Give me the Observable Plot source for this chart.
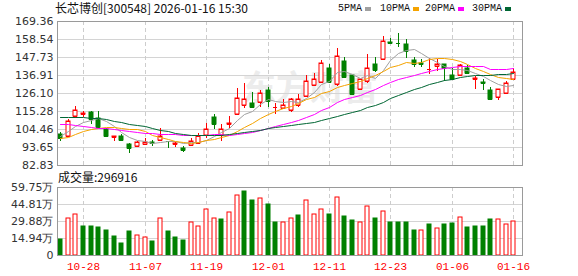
<!DOCTYPE html>
<html>
<head>
<meta charset="utf-8">
<script src="https://cdn.jsdelivr.net/npm/d3@7"></script>
<script src="https://cdn.jsdelivr.net/npm/@observablehq/plot@0.6"></script>
<style>
  body { margin: 0; background: #fff; }
  #wrap { position: relative; width: 578px; height: 276px; overflow: hidden; background: #fff; }
  .abs { position: absolute; }
  #title { left: 55px; top: 2px; font: 12px/12px "Noto Sans CJK SC", sans-serif; color: #111; white-space: nowrap; }
  #volTitle { left: 58px; top: 171px; font: 12px/12px "Noto Sans CJK SC", sans-serif; color: #111; white-space: nowrap; }
  .lg { position: absolute; top: 3px; font: 10px/11px "Liberation Mono", monospace; color: #111; white-space: nowrap; display: flex; align-items: center; }
  .sw { display: inline-block; width: 6px; height: 4px; margin-left: 3px; }
</style>
</head>
<body>
<div id="wrap">
  <div id="main" class="abs" style="left:0;top:0"></div>
  <div id="vol" class="abs" style="left:0;top:172px"></div>
  <div id="title" class="abs"></div>
  <div id="legend"></div>
  <div id="volTitle" class="abs"></div>
</div>
<script>
// ---------------- data ----------------
const stockName = "长芯博创";
const stockCode = "300548";
const stamp = "2026-01-16 15:30";

const dates = ["10-23","10-24","10-27","10-28","10-29","10-30","10-31","11-03","11-04","11-05",
  "11-06","11-07","11-10","11-11","11-12","11-13","11-14","11-17","11-18","11-19",
  "11-20","11-21","11-24","11-25","11-26","11-27","11-28","12-01","12-02","12-03",
  "12-04","12-05","12-08","12-09","12-10","12-11","12-12","12-15","12-16","12-17",
  "12-18","12-19","12-22","12-23","12-24","12-25","12-26","12-29","12-30","12-31",
  "01-05","01-06","01-07","01-08","01-09","01-12","01-13","01-14","01-15","01-16"];

const openP = [101.26,100.26,112.27,113.5,114.68,110.9,104.26,99.7,100.06,95.25,
  94.25,95.25,96.85,98.05,97.45,95.5,93.24,94.65,96.25,100.86,
  111.87,100.86,107.27,113.28,118.88,120.29,120.89,128.1,117.7,117.28,
  115.88,118.88,124.09,130.9,132.7,141.3,131.3,145.3,136.9,128.3,
  133.3,143.7,146.3,156.5,156.4,155.3,145.9,143.9,140.4,142.3,
  143.3,136.9,136.9,140.9,134.5,132.5,128.1,123.7,126.0,134.5];

const closeP = [99.25,109.27,115.88,113.9,110.27,105.9,100.06,100.0,97.85,93.24,
  96.85,96.9,96.05,100.26,97.1,95.8,91.64,97.25,100.26,104.66,
  107.27,104.66,108.27,123.29,122.69,117.88,126.1,121.49,117.9,118.88,
  122.69,122.5,133.3,134.7,144.1,132.9,148.3,135.7,125.7,134.3,
  141.3,139.7,157.3,156.1,155.9,151.3,143.3,143.5,140.7,143.7,
  140.9,134.5,142.7,138.3,134.9,132.3,122.3,128.3,132.3,138.9];

const highP = [102.86,110.27,118.08,115.08,115.28,115.3,105.26,100.0,101.26,96.25,
  97.0,98.86,97.65,105.26,97.5,96.85,94.05,99.25,102.26,108.27,
  113.68,107.67,112.27,129.3,132.3,126.9,127.7,129.5,120.29,122.49,
  123.29,125.7,136.91,138.31,145.7,143.3,152.9,147.7,136.9,134.7,
  149.7,147.7,160.3,158.9,162.3,158.3,147.7,146.3,147.3,146.3,
  143.7,141.3,143.3,142.7,136.5,134.3,129.5,128.7,133.1,141.3];

const lowP = [97.25,99.86,111.27,111.67,107.27,105.5,99.86,97.25,97.25,90.24,
  94.1,94.85,94.05,97.25,93.24,93.84,90.84,94.05,95.25,99.25,
  104.26,97.25,105.26,112.88,117.28,117.68,117.68,117.68,113.28,116.28,
  114.88,117.68,123.69,130.7,132.3,132.3,130.3,134.9,125.5,127.9,
  132.3,138.7,146.1,155.3,153.7,147.3,141.7,141.7,137.3,139.3,
  133.3,134.5,136.1,137.3,128.7,128.1,122.3,122.1,125.5,134.3];

// volume in 万 (10k shares)
const volWan = [14.0,32.6,35.6,25.4,25.4,24.5,21.9,16.9,10.5,21.0,
  17.5,15.7,12.2,32.1,21.0,15.7,13.1,28.6,25.1,40.2,
  32.9,31.5,38.2,53.1,56.0,48.1,50.4,44.6,28.9,28.6,
  32.9,35.0,48.1,36.4,40.8,36.4,51.3,34.1,30.6,29.4,
  43.4,32.4,39.1,28.9,28.9,28.9,21.9,22.4,26.8,23.3,
  26.8,27.7,33.8,24.5,25.1,25.1,31.5,31.2,26.8,29.6916];

const prevClose0 = 101.0; // close of the day before the first bar

// moving-average values before enough in-window closes exist
const ma5Early = [100.3,103.3,106.3,108.7];
const ma10Early = [99.3,99.9,101.3,103.3,104.7,105.3,105.7,105.4,104.9];
const ma20Early = [107.6,107.2,106.7,106.1,105.6,105.2,104.8,104.3,103.8,103.3,
  102.8,102.3,101.9,101.6,101.4,101.2,101.1,101.0,101.0];
const ma30Early = [111.7,111.6,111.5,111.4,111.2,110.9,110.3,109.5,108.5,107.6,
  106.9,106.0,105.2,104.0,103.0,102.2,101.5,101.1,100.9,100.9,
  101.0,101.1,101.5,102.0,102.6,103.3,104.0,104.8,105.6];

const maNames = ["5PMA","10PMA","20PMA","30PMA"];
const maPeriods = [5,10,20,30];
const maColors = ["#a0a0a0","#f5a300","#ff00ff","#006633"];

const yTicks = [82.83,93.65,104.46,115.28,126.10,136.91,147.73,158.54,169.36];
const volTicks = [0,14.94,29.88,44.81,59.75];
const xTickLabels = ["10-28","11-07","11-19","12-01","12-11","12-23","01-06","01-16"];

// ---------------- derived tables ----------------
const UP = "#ff0000", DOWN = "#008000";
const candles = dates.map((date, i) => ({
  i, date, open: openP[i], high: highP[i], low: lowP[i], close: closeP[i],
  vol: volWan[i], prev: i ? closeP[i - 1] : prevClose0
}));
const upC = candles.filter(d => d.close >= d.open);
const downC = candles.filter(d => d.close < d.open);
const volUp = candles.filter(d => d.close >= d.prev);
const volDown = candles.filter(d => d.close < d.prev);

const earlies = [ma5Early, ma10Early, ma20Early, ma30Early];
const maSeries = maPeriods.map((n, k) =>
  closeP.map((c, i) => ({i, v: i >= n - 1 ? d3.mean(closeP.slice(i - n + 1, i + 1)) : earlies[k][i]}))
);

const xTickIdx = xTickLabels.map(l => dates.indexOf(l));
const HALF = 0.26;
const xDomain = [-0.39, 60.11];
const GRID = "#d4d4d4", VGRID = "#cdcdcd", FRAME = "#9a9a9a";

// ---------------- main (price) chart ----------------
const main = Plot.plot({
  width: 578, height: 172,
  marginLeft: 57, marginRight: 56, marginTop: 21, marginBottom: 7,
  x: {domain: xDomain, round: true, axis: null, label: null},
  y: {domain: [82.83, 169.36], round: true, label: null},
  style: {fontFamily: "DejaVu Sans", fontSize: "11px", background: "transparent", overflow: "visible"},
  marks: [
    Plot.text(["东方财富"], {frameAnchor: "middle", dx: 20, dy: -4, fontSize: 34, fontWeight: "bold",
      fill: "#ececec", fontFamily: "Noto Sans CJK SC"}),
    Plot.ruleY(yTicks, {stroke: GRID}),
    Plot.ruleX(xTickIdx, {stroke: VGRID, strokeDasharray: "4,3"}),
    // wicks
    Plot.ruleX(upC, {x: "i", y1: "low", y2: "high", stroke: UP}),
    Plot.ruleX(downC, {x: "i", y1: "low", y2: "high", stroke: DOWN}),
    // bodies
    Plot.rect(upC, {x1: d => d.i - HALF, x2: d => d.i + HALF, y1: "open", y2: "close", fill: "white", stroke: UP}),
    Plot.rect(downC, {x1: d => d.i - HALF, x2: d => d.i + HALF, y1: "open", y2: "close", fill: DOWN, stroke: DOWN}),
    Plot.ruleY(upC, {y: "close", x1: d => d.i - HALF, x2: d => d.i + HALF, stroke: UP}),
    Plot.ruleY(upC, {y: "open", x1: d => d.i - HALF, x2: d => d.i + HALF, stroke: UP}),
    Plot.ruleY(downC, {y: "close", x1: d => d.i - HALF, x2: d => d.i + HALF, stroke: DOWN}),
    Plot.ruleY(downC, {y: "open", x1: d => d.i - HALF, x2: d => d.i + HALF, stroke: DOWN}),
    // moving averages
    ...maSeries.map((s, k) => Plot.line(s, {x: "i", y: "v", stroke: maColors[k], strokeWidth: 1})),
    Plot.frame({stroke: FRAME}),
    Plot.axisY({ticks: yTicks, tickFormat: d => d.toFixed(2), tickSize: 0, tickPadding: 4, color: "#333", fontSize: 11, label: null})
  ]
});
document.getElementById("main").appendChild(main);

// ---------------- volume chart ----------------
const vol = Plot.plot({
  width: 578, height: 104,
  marginLeft: 57, marginRight: 56, marginTop: 15, marginBottom: 21,
  x: {domain: xDomain, round: true, label: null},
  y: {domain: [0, 59.75], round: true, label: null},
  style: {fontFamily: "DejaVu Sans", fontSize: "11px", background: "transparent", overflow: "visible"},
  marks: [
    Plot.ruleY(volTicks, {stroke: GRID}),
    Plot.ruleX(xTickIdx, {stroke: VGRID, strokeDasharray: "4,3"}),
    Plot.rect(volDown, {x1: d => d.i - HALF, x2: d => d.i + HALF, y1: 0, y2: "vol", fill: DOWN, stroke: DOWN}),
    Plot.rect(volUp, {x1: d => d.i - HALF, x2: d => d.i + HALF, y1: 0, y2: "vol", fill: "white", stroke: UP}),
    Plot.frame({stroke: FRAME}),
    Plot.axisY({ticks: volTicks, tickFormat: d => d === 0 ? "0" : d.toFixed(2) + "万", tickSize: 0, tickPadding: 4, color: "#333", fontSize: 11, label: null}),
    Plot.axisX({ticks: xTickIdx, tickFormat: i => dates[i], tickSize: 0, tickPadding: 7, color: UP,
      fontFamily: "Liberation Mono", fontSize: 11, label: null})
  ]
});
document.getElementById("vol").appendChild(vol);

// ---------------- texts ----------------
document.getElementById("title").textContent = `${stockName}[${stockCode}] ${stamp}`;
document.getElementById("volTitle").textContent = `成交量:${Math.round(volWan[volWan.length - 1] * 1e4)}`;

const legendLefts = [338, 380, 425, 472];
const lg = document.getElementById("legend");
maNames.forEach((name, k) => {
  const item = document.createElement("div");
  item.className = "lg";
  item.style.left = legendLefts[k] + "px";
  item.innerHTML = `<span>${name}</span><span class="sw" style="background:${maColors[k]}"></span>`;
  lg.appendChild(item);
});
</script>
</body>
</html>
